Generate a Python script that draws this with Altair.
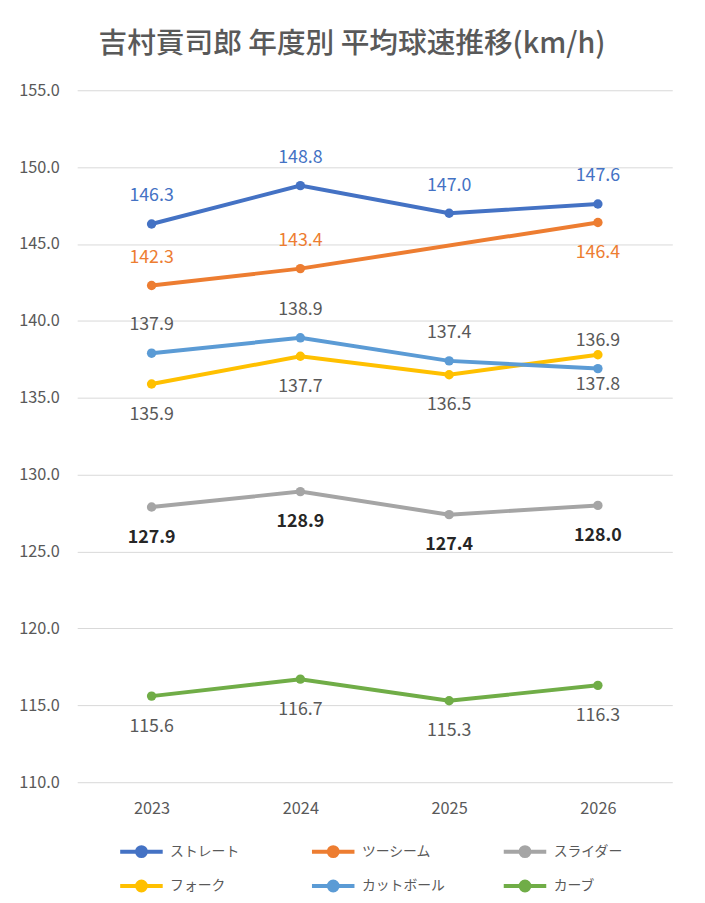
import altair as alt
import pandas as pd

years = ["2023", "2024", "2025", "2026"]
series_names = ["ストレート", "ツーシーム", "スライダー", "フォーク", "カットボール", "カーブ"]
straight = [146.3, 148.8, 147.0, 147.6]
twoseam = [142.3, 143.4, None, 146.4]
slider = [127.9, 128.9, 127.4, 128.0]
fork = [135.9, 137.7, 136.5, 137.8]
cutball = [137.9, 138.9, 137.4, 136.9]
curve = [115.6, 116.7, 115.3, 116.3]
colors = ["#4472C4", "#ED7D31", "#A5A5A5", "#FFC000", "#5B9BD5", "#70AD47"]

values = [straight, twoseam, slider, fork, cutball, curve]
rows = []
for name, vals in zip(series_names, values):
    for y, v in zip(years, vals):
        if v is not None:
            rows.append({"year": y, "series": name, "speed": v})
df = pd.DataFrame(rows)

# legend fills column by column: reorder so rows read like the original
legend_order = [series_names[i] for i in (0, 3, 1, 4, 2, 5)]
legend_colors = [colors[i] for i in (0, 3, 1, 4, 2, 5)]

FONT = "Noto Sans CJK JP"
GRAY = "#595959"

x_enc = alt.X("year:N", title=None, sort=years,
              scale=alt.Scale(type="point", padding=0.5),
              axis=alt.Axis(labelAngle=0, ticks=False, domain=False, grid=False,
                            labelPadding=19, labelFontSize=16.5, labelColor=GRAY, labelFont=FONT))
y_enc = alt.Y("speed:Q", title=None,
              scale=alt.Scale(domain=[110, 155], nice=False, zero=False),
              axis=alt.Axis(values=list(range(110, 156, 5)), format=".1f", ticks=False, domain=False,
                            gridColor="#D9D9D9", gridWidth=1, labelPadding=18,
                            labelFontSize=16.5, labelColor=GRAY, labelFont=FONT))

legend_path = "M-4.3,0L4.3,0M-0.9,0A0.9,0.9,0,1,0,0.9,0A0.9,0.9,0,1,0,-0.9,0Z"
legend = alt.Legend(title=None, orient="none", legendX=58, legendY=763,
                    columns=3, gridAlign="all", columnPadding=51, rowPadding=9,
                    symbolType=legend_path, symbolSize=100, symbolStrokeWidth=4,
                    labelOffset=22, labelFontSize=14, labelColor=GRAY, labelFont=FONT)
color_enc = alt.Color("series:N", sort=legend_order,
                      scale=alt.Scale(domain=legend_order, range=legend_colors),
                      legend=legend)

base = alt.Chart(df).encode(x=x_enc, y=y_enc, color=color_enc)
lines = base.mark_line(strokeWidth=4).encode(order=alt.Order("year:N"))
points = base.mark_point(size=90, filled=True, opacity=1)

def labels(filt, color, dy, weight="normal"):
    return alt.Chart(df).transform_filter(filt).mark_text(
        dy=dy, fontSize=18, font=FONT, color=color, fontWeight=weight, baseline="middle"
    ).encode(x=alt.X("year:N", sort=years), y="speed:Q", text=alt.Text("speed:Q", format=".1f"))

UP, DOWN = -28, 31
layers = [
    lines,
    points,
    labels(alt.datum.series == "ストレート", "#4472C4", UP),
    labels((alt.datum.series == "ツーシーム") & (alt.datum.year != "2026"), "#ED7D31", UP),
    labels((alt.datum.series == "ツーシーム") & (alt.datum.year == "2026"), "#ED7D31", DOWN),
    labels(alt.datum.series == "スライダー", "#262626", DOWN, "bold"),
    labels(alt.datum.series == "フォーク", GRAY, DOWN),
    labels(alt.datum.series == "カットボール", GRAY, UP),
    labels(alt.datum.series == "カーブ", GRAY, DOWN),
]

chart = alt.layer(*layers).properties(
    width=602, height=700,
    title=alt.TitleParams("吉村貢司郎 年度別 平均球速推移(km/h)", anchor="middle", fontSize=29,
                          font=FONT, color=GRAY, fontWeight=500, dx=-23, offset=10, baseline="middle"),
    autosize=alt.AutoSizeParams(type="none"),
    padding={"left": 70, "top": 78, "right": 25, "bottom": 117},
    background="white",
).configure_view(strokeWidth=0, stroke="transparent")

chart.save("out.html", embed_options={"renderer": "svg", "actions": False})
